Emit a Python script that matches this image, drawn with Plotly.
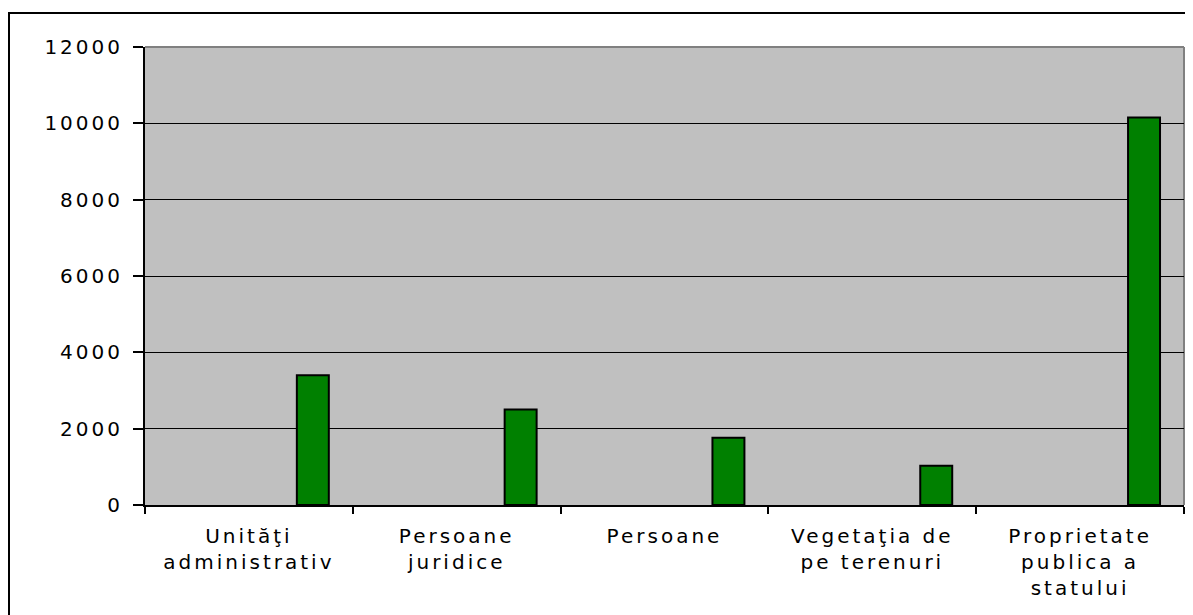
import plotly.graph_objects as go

categories = ["Unităţi administrativ", "Persoane juridice", "Persoane",
              "Vegetaţia de pe terenuri", "Proprietate publica a statului"]
category_lines = [["Unităţi", "administrativ"], ["Persoane", "juridice"], ["Persoane"],
                  ["Vegetaţia de", "pe terenuri"], ["Proprietate", "publica a", "statului"]]
values = [3400, 2500, 1760, 1030, 10150]
y_ticks = [0, 2000, 4000, 6000, 8000, 10000, 12000]
y_tick_labels = ["0", "2000", "4000", "6000", "8000", "10000", "12000"]

SP = "letter-spacing:3px"


def spaced(lines):
    return "<br>".join(f'<span style="{SP}">{ln}</span>' for ln in lines)


# page has an 8px body margin; figure coordinates are page coordinates minus 8
W, H = 1185, 607
L, R, T, B = 137, 9, 39, 110
pw, ph = W - L - R, H - T - B
FONT = "DejaVu Sans, Liberation Sans, Arial, sans-serif"

fig = go.Figure()
fig.add_trace(go.Bar(
    x=categories, y=values,
    width=1 / 6.5, offset=4.75 / 6.5 - 0.5,
    marker=dict(color="#008000", line=dict(color="black", width=2)),
    hoverinfo="skip",
))

fig.update_layout(
    width=W, height=H,
    margin=dict(l=L, r=R, t=T, b=B, autoexpand=False),
    paper_bgcolor="white", plot_bgcolor="#C0C0C0",
    showlegend=False,
    font=dict(family=FONT, size=20, color="black"),
    xaxis=dict(
        type="category", showgrid=False, showline=True, linecolor="black", linewidth=2,
        ticks="outside", tickson="boundaries", ticklen=7, tickcolor="black", tickwidth=2,
        tickvals=categories, ticktext=[spaced(c) for c in category_lines],
        tickfont=dict(family=FONT, size=20), ticklabelstandoff=12, automargin=False,
    ),
    yaxis=dict(
        range=[0, 12000], showgrid=True, gridcolor="black", gridwidth=1,
        showline=True, linecolor="black", linewidth=2, zeroline=False,
        ticks="outside", ticklen=10, tickcolor="black", tickwidth=1.5,
        tickvals=y_ticks, ticktext=[spaced([t]) for t in y_tick_labels],
        tickfont=dict(family=FONT, size=20), ticklabelstandoff=6, automargin=False,
    ),
    shapes=[
        dict(type="line", xref="paper", yref="paper", x0=0, x1=1, y0=1, y1=1,
             line=dict(color="#808080", width=2), layer="below"),
        dict(type="line", xref="paper", yref="paper", x0=1, x1=1, y0=0, y1=1,
             line=dict(color="#808080", width=2), layer="below"),
        dict(type="rect", xref="paper", yref="paper",
             x0=(1 - L) / pw, x1=(W + 20 - L) / pw,
             y0=-(B + 20) / ph, y1=(H - B - 5) / ph,
             line=dict(color="black", width=2), fillcolor="rgba(0,0,0,0)"),
    ],
)

fig.write_html("out.html")
